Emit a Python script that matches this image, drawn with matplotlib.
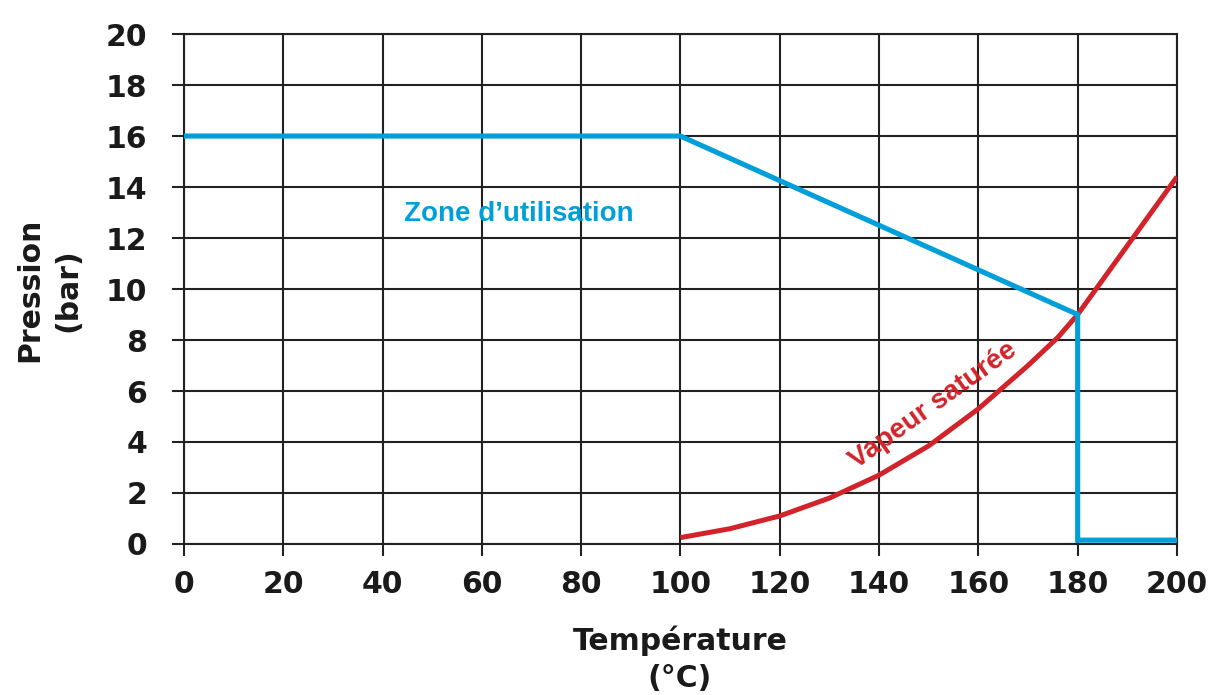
import matplotlib
matplotlib.use("Agg")
import matplotlib.pyplot as plt

# Data
zone_T = [0, 100, 180, 180, 200]
zone_P = [16, 16, 9, 0.15, 0.15]
vap_T = [100, 110, 120, 130, 140, 150, 160, 170, 176, 180, 190, 200]
vap_P = [0.25, 0.6, 1.1, 1.8, 2.7, 3.85, 5.3, 7.0, 8.1, 9.0, 11.7, 14.4]
x_ticks = list(range(0, 201, 20))
y_ticks = list(range(0, 21, 2))

BLUE = "#009FDA"
RED = "#D2232A"
GRID = "#222222"

fig = plt.figure(figsize=(12.1, 6.95), dpi=100)
ax = fig.add_axes([0.152, 0.2173, 0.8207, 0.7337])
ax.set_xlim(0, 200)
ax.set_ylim(0, 20)
ax.set_xticks(x_ticks)
ax.set_yticks(y_ticks)
ax.grid(True, color=GRID, linewidth=1.5, zorder=0)
for s in ax.spines.values():
    s.set_color(GRID)
    s.set_linewidth(1.5)
ax.tick_params(axis="both", direction="out", length=8.5, width=1.5, color=GRID,
               labelsize=21.5)
ax.tick_params(axis="y", pad=18)
ax.tick_params(axis="x", pad=10)
for lab in ax.get_xticklabels() + ax.get_yticklabels():
    lab.set_fontweight("bold")
    lab.set_color("#1a1a1a")

ax.plot(vap_T, vap_P, color=RED, linewidth=3.6, zorder=3, solid_capstyle="butt",
        solid_joinstyle="round")
ax.plot(zone_T, zone_P, color=BLUE, linewidth=3.7, zorder=4, solid_joinstyle="miter")

ax.text(44.3, 12.94, "Zone d\u2019utilisation", color=BLUE, fontsize=20,
        fontweight="bold", family="Liberation Sans", ha="left", va="center")
ax.text(151, 5.45, "Vapeur saturée", color=RED, fontsize=20, fontweight="bold",
        family="Liberation Sans", ha="center", va="center", rotation=35.6,
        rotation_mode="anchor")

fig.text(0.04, 0.583, "Pression\n(bar)", rotation=90, ha="center", va="center",
         fontsize=21.5, fontweight="bold", color="#1a1a1a", linespacing=1.4)
fig.text(0.562, 0.052, "Température\n(°C)", ha="center", va="center",
         fontsize=21.5, fontweight="bold", color="#1a1a1a", linespacing=1.35)

fig.savefig("out.png", dpi=100, facecolor="white")
